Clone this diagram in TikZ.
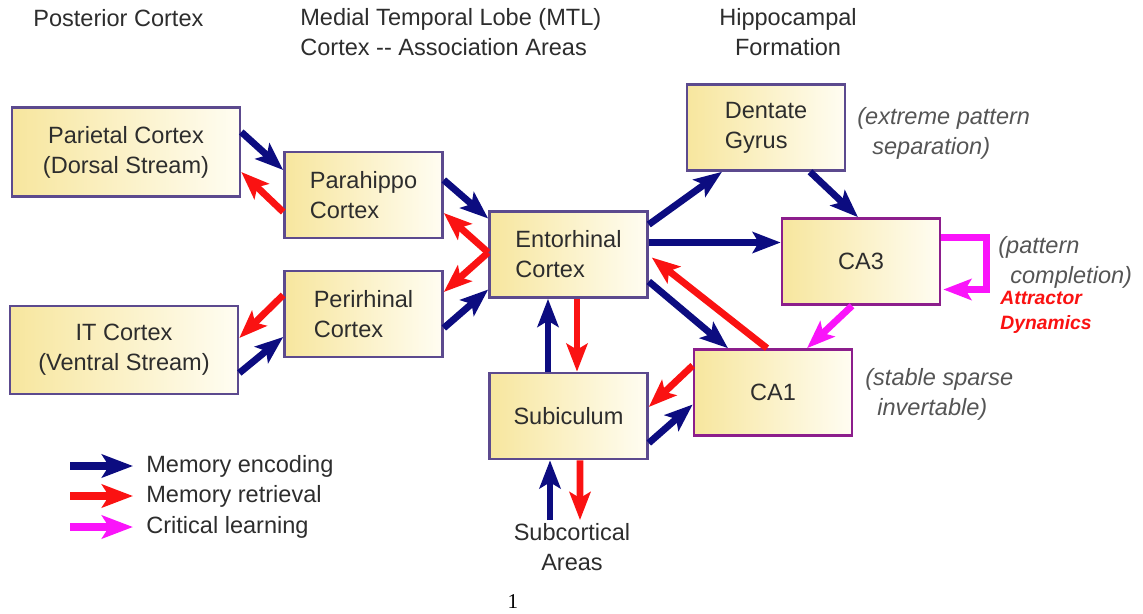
\documentclass[tikz,border=0pt]{standalone}
\usepackage{fontspec}
\setmainfont{Liberation Sans}
\newfontfamily\pagefont{Liberation Serif}
\usepackage{tikz}
\usetikzlibrary{arrows.meta, calc, positioning}
\definecolor{HCNavy}{RGB}{12,12,128}
\definecolor{HCRed}{RGB}{250,18,18}
\definecolor{HCPink}{RGB}{250,20,250}
\definecolor{HCLine}{RGB}{92,74,142}
\definecolor{HCPurple}{RGB}{140,30,140}
\definecolor{HCYellow}{RGB}{247,230,158}
\definecolor{HCCream}{RGB}{255,253,242}
\definecolor{HCText}{RGB}{45,45,45}
\definecolor{HCNote}{RGB}{85,85,85}
\newcommand{\txtfont}{\fontsize{13.4}{17}\selectfont}

\begin{document}
\begin{tikzpicture}[x=0.02cm, y=-0.02cm,
            box/.style={rectangle, draw=HCLine, line width=1.5pt,
                        left color=HCYellow, right color=HCCream,
                        minimum width=3.16cm, minimum height=1.72cm,
                        align=center, text=HCText, font=\txtfont},
            hbox/.style={box, draw=HCPurple},
            lbl/.style={inner sep=0pt, text=HCText, font=\txtfont, align=center},
            note/.style={inner sep=0pt, text=HCNote, font=\txtfont\itshape, align=left},
            enc/.style={-{Stealth[length=0.56cm, width=0.42cm, inset=0.12cm]},
                        line width=3.9pt, HCNavy},
            ret/.style={enc, HCRed},
            crit/.style={enc, HCPink},
            leg/.style={-{Stealth[length=0.62cm, width=0.46cm, inset=0.14cm]},
                        line width=4.5pt}
          ]
          \useasboundingbox (0,0) rectangle (1143,613);

          % column headers
          \node[lbl, anchor=west] (post) at (33,18) {Posterior Cortex};
          \node[lbl, anchor=west, align=left] (mtl) at (300,32.5)
                {Medial Temporal Lobe (MTL)\\Cortex -{}- Association Areas};
          \node[lbl] (hipf) at (788,32.5) {Hippocampal\\Formation};

          % boxes
          \node[box, minimum width=4.56cm, minimum height=1.78cm] (pari) at (126,152)
                {Parietal Cortex\\(Dorsal Stream)};
          \node[box, minimum width=4.56cm, minimum height=1.76cm] (itc) at (124,350)
                {IT Cortex\\(Ventral Stream)};
          \node[box, align=left] (para) at (363.5,195) {Parahippo\\Cortex};
          \node[box, align=left] (peri) at (363.5,314) {Perirhinal\\Cortex};
          \node[box, align=left] (ento) at (568.5,254.5) {Entorhinal\\Cortex};
          \node[box] (subi) at (568.5,416) {Subiculum};
          \node[box, align=left] (dent) at (766,127.5) {Dentate\\Gyrus};
          \node[hbox] (ca3) at (861,261.5) {CA3};
          \node[hbox] (ca1) at (773,392.5) {CA1};
          \node[lbl] (subc) at (572,547) {Subcortical\\Areas};

          % notes
          \node[note, anchor=west] (dgnote) at (857,133)
                {(extreme pattern\\\hspace*{0.3cm}separation)};
          \node[note, anchor=west] (ca3note) at (998,262)
                {(pattern\\\hspace*{0.24cm}completion)};
          \node[note, anchor=west, text=HCRed, font=\fontsize{11}{14.2}\selectfont\bfseries\itshape]
                (attr) at (1000,312.5) {Attractor\\Dynamics};
          \node[note, anchor=west] (ca1note) at (865,394)
                {(stable sparse\\\hspace*{0.24cm}invertable)};

          % cortex <-> MTL
          \draw[enc] ($(pari.east)+(0,-20)$) -- ($(para.west)+(0,-25)$);
          \draw[ret] ($(para.west)+(0,17)$) -- ($(pari.east)+(0,20)$);
          \draw[ret] ($(peri.west)+(0,-19)$) -- ($(itc.east)+(0,-12)$);
          \draw[enc] ($(itc.east)+(0,23)$) -- ($(peri.west)+(0,23)$);
          \draw[enc] ($(para.east)+(0,-15)$) -- ($(ento.west)+(0,-36)$);
          \draw[ret] ($(ento.west)+(0,-2)$) -- ($(para.east)+(0,18)$);
          \draw[ret] ($(ento.west)+(0,-2)$) -- ($(peri.east)+(0,-22)$);
          \draw[enc] ($(peri.east)+(0,14)$) -- ($(ento.west)+(0,35)$);

          % hippocampal loop
          \draw[enc] ($(ento.east)+(0,-30)$) -- ($(dent.south)+(-44,0)$);
          \draw[enc] ($(dent.south)+(44,0)$) -- ($(ca3.north)+(-3,0)$);
          \draw[enc] ($(ento.east)+(0,-12)$) -- ($(ca3.west)+(0,-19)$);
          \draw[enc] ($(ento.east)+(0,27)$) -- ($(ca1.north)+(-45,0)$);
          \draw[ret] ($(ca1.north)+(-6,0)$) -- ($(ento.east)+(3,3)$);
          \draw[crit] ($(ca3.south)+(-9,0)$) -- ($(ca1.north)+(34,0)$);
          \draw[crit] ($(ca3.east)+(0,-24)$) -- ++(45,0) |- ($(ca3.east)+(2,28)$);
          \draw[ret] ($(ca1.west)+(0,-27)$) -- ($(subi.east)+(0,-9)$);
          \draw[enc] ($(subi.east)+(0,27)$) -- ($(ca1.west)+(0,12)$);

          % subiculum
          \draw[enc] ($(subi.north)+(-20.5,0)$) -- ($(ento.south)+(-20.5,0)$);
          \draw[ret] ($(ento.south)+(8.5,0)$) -- ($(subi.north)+(8.5,0)$);
          \draw[enc] ($(subc.north)+(-22,-3)$) -- ($(subi.south)+(-18.5,0)$);
          \draw[ret] ($(subi.south)+(11.5,0)$) -- ($(subc.north)+(8,-3)$);

          % legend
          \node[lbl, anchor=west] (lenc) at (146,466) {Memory encoding};
          \node[lbl, anchor=west] (lret) at (146,496) {Memory retrieval};
          \node[lbl, anchor=west] (lcrit) at (146,527) {Critical learning};
          \draw[enc, leg] ($(lenc.west)+(-76,0)$) -- ($(lenc.west)+(-13,0)$);
          \draw[ret, leg] ($(lret.west)+(-76,0)$) -- ($(lret.west)+(-13,0)$);
          \draw[crit, leg] ($(lcrit.west)+(-76,0)$) -- ($(lcrit.west)+(-13,0)$);

          \node[font=\pagefont\fontsize{12}{14}\selectfont] (pgno) at (513,602) {1};
        \end{tikzpicture}
\end{document}
